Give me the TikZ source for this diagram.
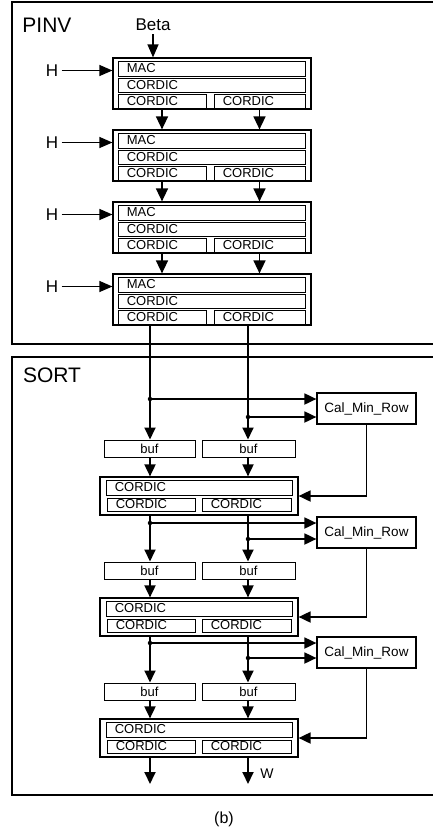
\documentclass[tikz,border=0pt]{standalone}
\usepackage{fontspec}
\setmainfont{Liberation Sans}
\usetikzlibrary{arrows.meta}
\newcommand\fs[1]{\fontsize{#1}{#1}\selectfont}
\tikzset{
  frame/.style={line width=1.8pt},
  blk/.style={draw, line width=1.2pt, inner sep=0pt},
  cell/.style={draw, line width=0.9pt, inner sep=0pt},
  celltext/.style={anchor=west, xshift=9pt, inner sep=0pt, font=\fs{13}},
  bufbox/.style={draw, line width=1pt, inner sep=0pt, font=\fs{13}},
  calbox/.style={draw, line width=1.2pt, inner sep=0pt, font=\fs{13.5}},
  arr/.style={line width=1.8pt, -{Triangle[length=12pt,width=11pt]}},
  thinarr/.style={line width=1.2pt, -{Triangle[length=13pt,width=11pt]}},
  dot/.style={circle, fill, inner sep=0pt, minimum size=4.5pt},
}
\newcommand\boxat[7]{\node[#1, minimum width={(#5)-(#3)}, minimum height={(#6)-(#4)}] (#2) at ({((#3)+(#5))/2},{((#4)+(#6))/2}) {#7};}
\newcommand\cellat[6]{\node[cell, minimum width={(#4)-(#2)}, minimum height={(#5)-(#3)}, label={[celltext]west:#6}] (#1) at ({((#2)+(#4))/2},{((#3)+(#5))/2}) {};}
\begin{document}
\begin{tikzpicture}[x=1pt,y=-1pt]
\useasboundingbox (0,0) rectangle (433,830);
% frames
\draw[frame] (433,2) -- (12,2) -- (12,344) -- (433,344);
\draw[frame] (433,357) -- (12,357) -- (12,795) -- (433,795);
\node[font=\fs{21}] (pinv) at (47,25.5) {PINV};
\node[font=\fs{21}] (sort) at (52,375) {SORT};
\coordinate (colL) at (150,0);
\coordinate (colR) at (248,0);
% PINV blocks
\foreach \i/\t in {1/58,2/130,3/202,4/274}{
  \boxat{blk}{b\i}{113}{\t}{311}{\t+51}{}
  \cellat{mac\i}{118}{\t+3}{305}{\t+18}{MAC}
  \cellat{cor\i}{118}{\t+20}{305}{\t+34}{CORDIC}
  \cellat{cl\i}{118}{\t+36}{206}{\t+50}{CORDIC}
  \cellat{cr\i}{214}{\t+36}{305}{\t+50}{CORDIC}
  \node[font=\fs{17}] (h\i) at (52,\t+12.5) {H};
  \draw[thinarr] (h\i.east) -- (h\i.east -| b\i.west);
}
\node[font=\fs{17}] (beta) at (153,25) {Beta};
\draw[thinarr] (beta.south) -- (beta.south |- b1.north);
\foreach \i/\j in {1/2,2/3,3/4}{
  \draw[line width=1.5pt, -{Triangle[length=13pt,width=12pt]}] (cl\i.south) -- (cl\i.south |- b\j.north);
  \draw[line width=1.5pt, -{Triangle[length=13pt,width=12pt]}] (cr\i.south) -- (cr\i.south |- b\j.north);
}
% SORT stages
\foreach \s/\ct/\dl/\dr/\bt/\kt in {1/393/399/417/440/477,2/517/523/539/562/598,3/637/643/658/683/719}{
  \boxat{calbox}{cal\s}{317}{\ct}{416}{\ct+31}{Cal\_Min\_Row}
  \boxat{bufbox}{bl\s}{104}{\bt}{195}{\bt+17}{buf}
  \boxat{bufbox}{br\s}{202}{\bt}{295}{\bt+17}{buf}
  \boxat{blk}{s\s}{100}{\kt}{298}{\kt+38}{}
  \cellat{sc\s}{106}{\kt+3}{292}{\kt+18}{CORDIC}
  \cellat{sl\s}{107}{\kt+21}{195}{\kt+34}{CORDIC}
  \cellat{sr\s}{202}{\kt+21}{291}{\kt+34}{CORDIC}
  \node[dot] (dl\s) at (150,\dl) {};
  \node[dot] (dr\s) at (248,\dr) {};
  \draw[arr] (dl\s.center) -- (dl\s -| cal\s.west);
  \draw[arr] (dr\s.center) -- (dr\s -| cal\s.west);
  \draw[arr] (bl\s.south -| colL) -- (colL |- s\s.north);
  \draw[arr] (br\s.south -| colR) -- (colR |- s\s.north);
  \draw[arr] (cal\s.south) |- (s\s.east);
}
\draw[arr] (b4.south -| colL) -- (colL |- bl1.north);
\draw[arr] (b4.south -| colR) -- (colR |- br1.north);
\draw[arr] (s1.south -| colL) -- (colL |- bl2.north);
\draw[arr] (s1.south -| colR) -- (colR |- br2.north);
\draw[arr] (s2.south -| colL) -- (colL |- bl3.north);
\draw[arr] (s2.south -| colR) -- (colR |- br3.north);
\coordinate (outL) at (150,784);
\coordinate (outR) at (248,784);
\draw[arr] (s3.south -| colL) -- (outL);
\draw[arr] (s3.south -| colR) -- (outR);
\node[font=\fs{14}] (w) at (267,774) {W};
\node[font=\fs{16}] (cap) at (224,819) {(b)};
\end{tikzpicture}
\end{document}
